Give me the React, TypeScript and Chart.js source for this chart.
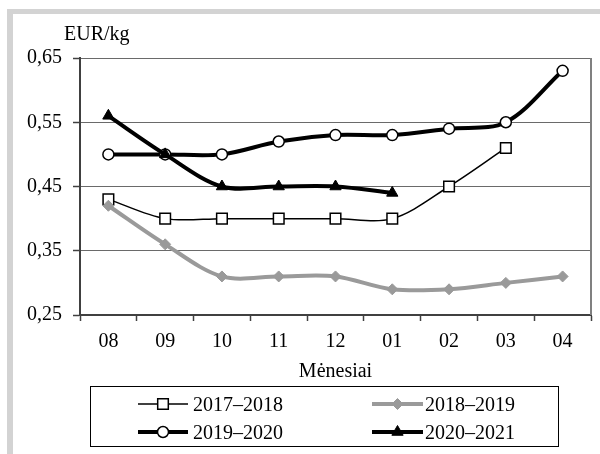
import React, { useEffect, useRef } from "react";
import { Chart, registerables } from "chart.js";

Chart.register(...registerables);

const categories = ["08", "09", "10", "11", "12", "01", "02", "03", "04"];
const s2017 = [0.43, 0.40, 0.40, 0.40, 0.40, 0.40, 0.45, 0.51, null];
const s2018 = [0.42, 0.36, 0.31, 0.31, 0.31, 0.29, 0.29, 0.30, 0.31];
const s2019 = [0.50, 0.50, 0.50, 0.52, 0.53, 0.53, 0.54, 0.55, 0.63];
const s2020 = [0.56, 0.50, 0.45, 0.45, 0.45, 0.44, null, null, null];
const seriesNames = ["2017–2018", "2018–2019", "2019–2020", "2020–2021"];
const yMin = 0.25;
const yMax = 0.65;
const yStep = 0.1;
const yTitle = "EUR/kg";
const xTitle = "Mėnesiai";

const FONT = "'Liberation Serif', 'Times New Roman', serif";
const GRAY = "#9a9a9a";

function drawMarker(ctx: CanvasRenderingContext2D, style: string, x: number, y: number, r: number, fill: string, stroke: string, lw: number) {
  ctx.save();
  ctx.beginPath();
  if (style === "rect") {
    const s = Math.SQRT1_2 * r;
    ctx.rect(x - s, y - s, 2 * s, 2 * s);
  } else if (style === "circle") {
    ctx.arc(x, y, r, 0, Math.PI * 2);
  } else if (style === "rectRot") {
    ctx.moveTo(x - r, y);
    ctx.lineTo(x, y - r);
    ctx.lineTo(x + r, y);
    ctx.lineTo(x, y + r);
    ctx.closePath();
  } else if (style === "triangle") {
    const rad = -Math.PI / 2;
    const t = (2 * Math.PI) / 3;
    ctx.moveTo(x + Math.cos(rad) * r, y + Math.sin(rad) * r);
    ctx.lineTo(x + Math.cos(rad + t) * r, y + Math.sin(rad + t) * r);
    ctx.lineTo(x + Math.cos(rad + 2 * t) * r, y + Math.sin(rad + 2 * t) * r);
    ctx.closePath();
  }
  ctx.fillStyle = fill;
  ctx.fill();
  ctx.lineWidth = lw;
  ctx.strokeStyle = stroke;
  ctx.stroke();
  ctx.restore();
}

const decorPlugin = {
  id: "decor",
  beforeDraw(chart: any) {
    const ctx = chart.ctx as CanvasRenderingContext2D;
    ctx.save();
    ctx.fillStyle = "#ffffff";
    ctx.fillRect(0, 0, chart.width, chart.height);
    ctx.fillStyle = "#d3d3d3";
    ctx.fillRect(7, 9, 6, chart.height - 9);
    ctx.fillRect(7, 9, chart.width - 7, 5);
    ctx.restore();
  },
  afterDatasetsDraw(chart: any) {
    const ctx = chart.ctx as CanvasRenderingContext2D;
    const a = chart.chartArea;
    ctx.save();
    // right border of plot
    ctx.strokeStyle = "#808080";
    ctx.lineWidth = 2;
    ctx.beginPath();
    ctx.moveTo(a.right, a.top);
    ctx.lineTo(a.right, a.bottom);
    ctx.stroke();
    ctx.restore();
  },
  afterDraw(chart: any) {
    const ctx = chart.ctx as CanvasRenderingContext2D;
    const a = chart.chartArea;
    ctx.save();
    ctx.fillStyle = "#000";
    ctx.font = `20px ${FONT}`;
    ctx.textBaseline = "alphabetic";
    ctx.textAlign = "left";
    ctx.fillText(yTitle, 64, 40);
    ctx.textAlign = "center";
    ctx.fillText(xTitle, (a.left + a.right) / 2, 377);

    // legend box
    ctx.strokeStyle = "#000";
    ctx.lineWidth = 1;
    ctx.strokeRect(90.5, 386.5, 468, 60);
    const pos = [
      { x0: 138, x1: 188, tx: 193, y: 404 },
      { x0: 372, x1: 423, tx: 425, y: 404 },
      { x0: 138, x1: 188, tx: 193, y: 432 },
      { x0: 372, x1: 423, tx: 425, y: 432 },
    ];
    chart.data.datasets.forEach((ds: any, i: number) => {
      const p = pos[i];
      ctx.save();
      ctx.strokeStyle = ds.borderColor;
      ctx.lineWidth = ds.borderWidth;
      ctx.beginPath();
      ctx.moveTo(p.x0, p.y);
      ctx.lineTo(p.x1, p.y);
      ctx.stroke();
      ctx.restore();
      drawMarker(ctx, ds.pointStyle, (p.x0 + p.x1) / 2, p.y, ds.pointRadius, ds.pointBackgroundColor, ds.pointBorderColor, ds.pointBorderWidth);
      ctx.fillStyle = "#000";
      ctx.textAlign = "left";
      ctx.textBaseline = "alphabetic";
      ctx.fillText(ds.label, p.tx, p.y + 7);
    });
    ctx.restore();
  },
};

export default function App() {
  const ref = useRef<HTMLCanvasElement | null>(null);
  useEffect(() => {
    if (!ref.current) return;
    const chart = new Chart(ref.current, {
      type: "line",
      data: {
        labels: categories,
        datasets: [
          {
            label: seriesNames[0],
            data: s2017,
            borderColor: "#000",
            borderWidth: 1.5,
            pointStyle: "rect",
            pointRadius: 7.5,
            pointBackgroundColor: "#fff",
            pointBorderColor: "#000",
            pointBorderWidth: 1.5,
            tension: 0.33,
            order: 3,
          },
          {
            label: seriesNames[1],
            data: s2018,
            borderColor: GRAY,
            borderWidth: 4,
            pointStyle: "rectRot",
            pointRadius: 5.5,
            pointBackgroundColor: GRAY,
            pointBorderColor: GRAY,
            pointBorderWidth: 1,
            tension: 0.33,
            order: 2,
          },
          {
            label: seriesNames[2],
            data: s2019,
            borderColor: "#000",
            borderWidth: 4,
            pointStyle: "circle",
            pointRadius: 5.5,
            pointBackgroundColor: "#fff",
            pointBorderColor: "#000",
            pointBorderWidth: 1.5,
            tension: 0.33,
            order: 1,
          },
          {
            label: seriesNames[3],
            data: s2020,
            borderColor: "#000",
            borderWidth: 4,
            pointStyle: "triangle",
            pointRadius: 6.5,
            pointBackgroundColor: "#000",
            pointBorderColor: "#000",
            pointBorderWidth: 1,
            tension: 0.33,
            order: 0,
          },
        ] as any,
      },
      options: {
        responsive: false,
        animation: false,
        devicePixelRatio: 1,
        layout: { padding: { left: 0, top: 58, right: 7, bottom: 0 } },
        plugins: { legend: { display: false }, tooltip: { enabled: false } },
        scales: {
          x: {
            offset: true,
            afterFit: (s: any) => { s.height = 139; },
            grid: {
              offset: true,
              drawOnChartArea: false,
              drawTicks: true,
              tickLength: 6,
              tickColor: "#404040",
              tickWidth: 1.5,
            },
            border: { display: true, color: "#404040", width: 2 },
            ticks: {
              color: "#000",
              font: { family: FONT, size: 20 },
              padding: 9,
              maxRotation: 0,
              autoSkip: false,
            },
          },
          y: {
            min: yMin,
            max: yMax,
            afterFit: (s: any) => { s.width = 80; },
            grid: {
              color: "#6a6a6a",
              lineWidth: 1,
              drawTicks: true,
              tickLength: 7,
              tickColor: "#404040",
              tickWidth: 1.5,
            },
            border: { display: true, color: "#404040", width: 2 },
            ticks: {
              stepSize: yStep,
              color: "#000",
              font: { family: FONT, size: 20 },
              padding: 11,
              callback: (v: any) => Number(v).toFixed(2).replace(".", ","),
            },
          },
        },
      },
      plugins: [decorPlugin],
    });
    return () => chart.destroy();
  }, []);
  return (
    <div style={{ position: "fixed", left: 0, top: 0, width: 600, height: 454 }}>
      <canvas ref={ref} width={600} height={454} style={{ display: "block" }} />
    </div>
  );
}
